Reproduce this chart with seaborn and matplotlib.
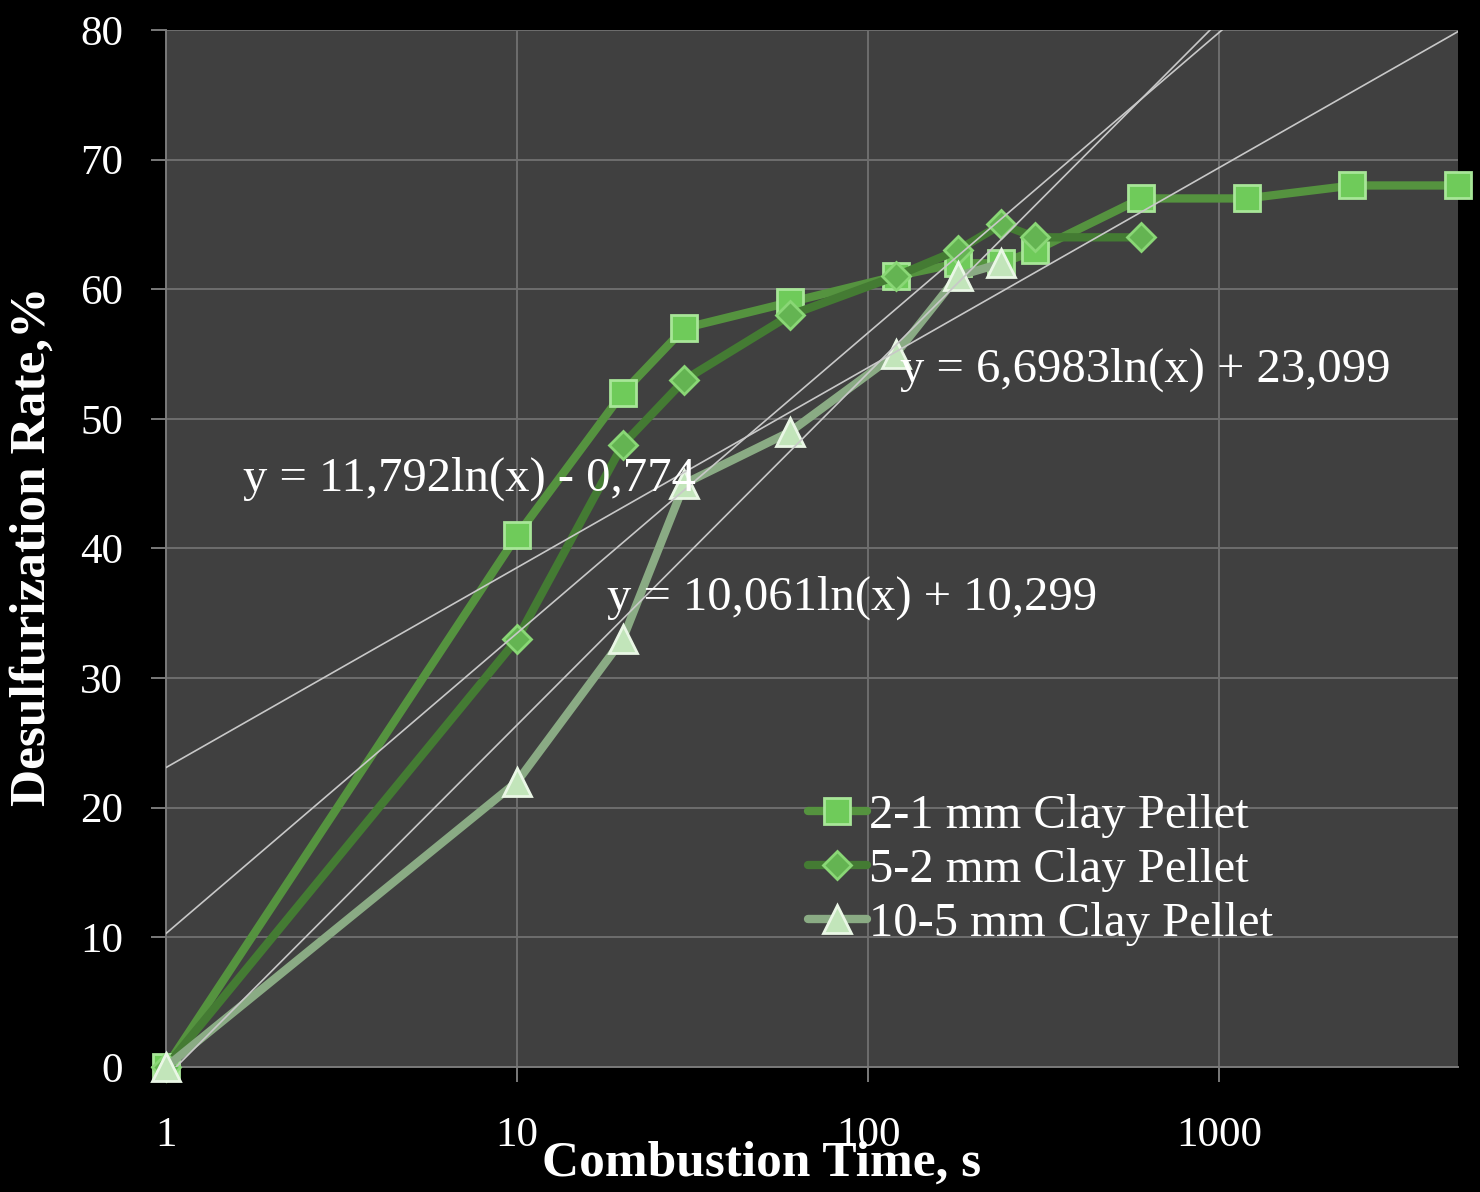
import numpy as np
import pandas as pd
import seaborn as sns
import matplotlib.pyplot as plt
from matplotlib.ticker import FixedLocator, FixedFormatter, NullLocator

# data (time in s, log axis; rate in %)
time_21 = [1, 10, 20, 30, 60, 120, 180, 240, 300, 600, 1200, 2400, 4800]
rate_21 = [0, 41, 52, 57, 59, 61, 62, 62, 63, 67, 67, 68, 68]
time_52 = [1, 10, 20, 30, 60, 120, 180, 240, 300, 600]
rate_52 = [0, 33, 48, 53, 58, 61, 63, 65, 64, 64]
time_105 = [1, 10, 20, 30, 60, 120, 180, 240]
rate_105 = [0, 22, 33, 45, 49, 55, 61, 62]

series_labels = ['2-1 mm Clay Pellet', '5-2 mm Clay Pellet', '10-5 mm Clay Pellet']
equations = ['y = 6,6983ln(x) + 23,099', 'y = 10,061ln(x) + 10,299', 'y = 11,792ln(x) - 0,774']
x_ticks = [1, 10, 100, 1000]
x_tick_labels = ['1', '10', '100', '1000']
y_ticks = [0, 10, 20, 30, 40, 50, 60, 70, 80]

sns.set_theme(style='dark')
plt.rcParams['font.family'] = ['Liberation Serif', 'DejaVu Serif']

fig = plt.figure(figsize=(14.8, 11.92), dpi=100, facecolor='black')
ax = fig.add_axes([0.1122, 0.1049, 0.873, 0.870])
ax.set_facecolor('#404040')
ax.set_xscale('log')
ax.set_xlim(1, 4800)
ax.set_ylim(0, 80)

# series styling
styles = [
    dict(marker='s', markersize=19, markerfacecolor='#6fcb5a', markeredgecolor='#a8e698',
         color='#55933f'),
    dict(marker='D', markersize=14, markerfacecolor='#64b452', markeredgecolor='#8ad776',
         color='#447b33'),
    dict(marker='^', markersize=20, markerfacecolor='#c2e5ba', markeredgecolor='#eaf7e6',
         color='#8aab84'),
]
series = [(time_21, rate_21), (time_52, rate_52), (time_105, rate_105)]

for (t, r), lab, st in zip(series, series_labels, styles):
    df = pd.DataFrame({'time': t, 'rate': r})
    sns.lineplot(data=df, x='time', y='rate', ax=ax, label=lab, linewidth=6,
                 markeredgewidth=2, zorder=4, clip_on=False, **st)

# logarithmic trendlines (Excel style), fitted from the series
for t, r in series:
    sns.regplot(x=t, y=r, ax=ax, logx=True, ci=None, scatter=False, truncate=False,
                line_kws=dict(color='#c8c8c8', lw=1.2, zorder=5))

ax.set_xlim(1, 4800)
ax.set_ylim(0, 80)

# equation labels
eq_pos = [(123, 53.8), (18.0, 36.2), (1.66, 45.4)]
for txt, (ex, ey) in zip(equations, eq_pos):
    ax.text(ex, ey, txt, color='white', fontsize=35, va='center', ha='left', zorder=6)

# grid and ticks
ax.xaxis.set_major_locator(FixedLocator(x_ticks))
ax.xaxis.set_major_formatter(FixedFormatter(x_tick_labels))
ax.xaxis.set_minor_locator(NullLocator())
ax.yaxis.set_major_locator(FixedLocator(y_ticks))
ax.grid(True, color='#6e6e6e', linewidth=1.4)
ax.set_axisbelow(True)
ax.tick_params(axis='both', colors='#7a7a7a', labelcolor='white', labelsize=31,
               direction='out', length=11, width=1.4, left=True, bottom=True)
ax.tick_params(axis='y', pad=20)
ax.tick_params(axis='x', pad=25)

for side in ['top', 'right']:
    ax.spines[side].set_visible(False)
for side in ['left', 'bottom']:
    ax.spines[side].set_color('#7a7a7a')
    ax.spines[side].set_linewidth(1.4)

ax.set_xlabel('Combustion Time, s', color='white', fontsize=37, fontweight='bold')
ax.set_ylabel('Desulfurization Rate,%', color='white', fontsize=37, fontweight='bold')
ax.xaxis.set_label_coords(0.461, -0.093)
ax.xaxis.label.set_va('center')
ax.yaxis.set_label_coords(-0.103, 0.502)
ax.yaxis.label.set_va('center')

leg = ax.legend(loc='upper left', bbox_to_anchor=(0.497, 0.263), frameon=False,
                fontsize=35, labelcolor='white', borderpad=0, borderaxespad=0,
                handlelength=1.2, handletextpad=0.05, labelspacing=0.2)

fig.savefig('out.png', dpi=100, facecolor='black')
